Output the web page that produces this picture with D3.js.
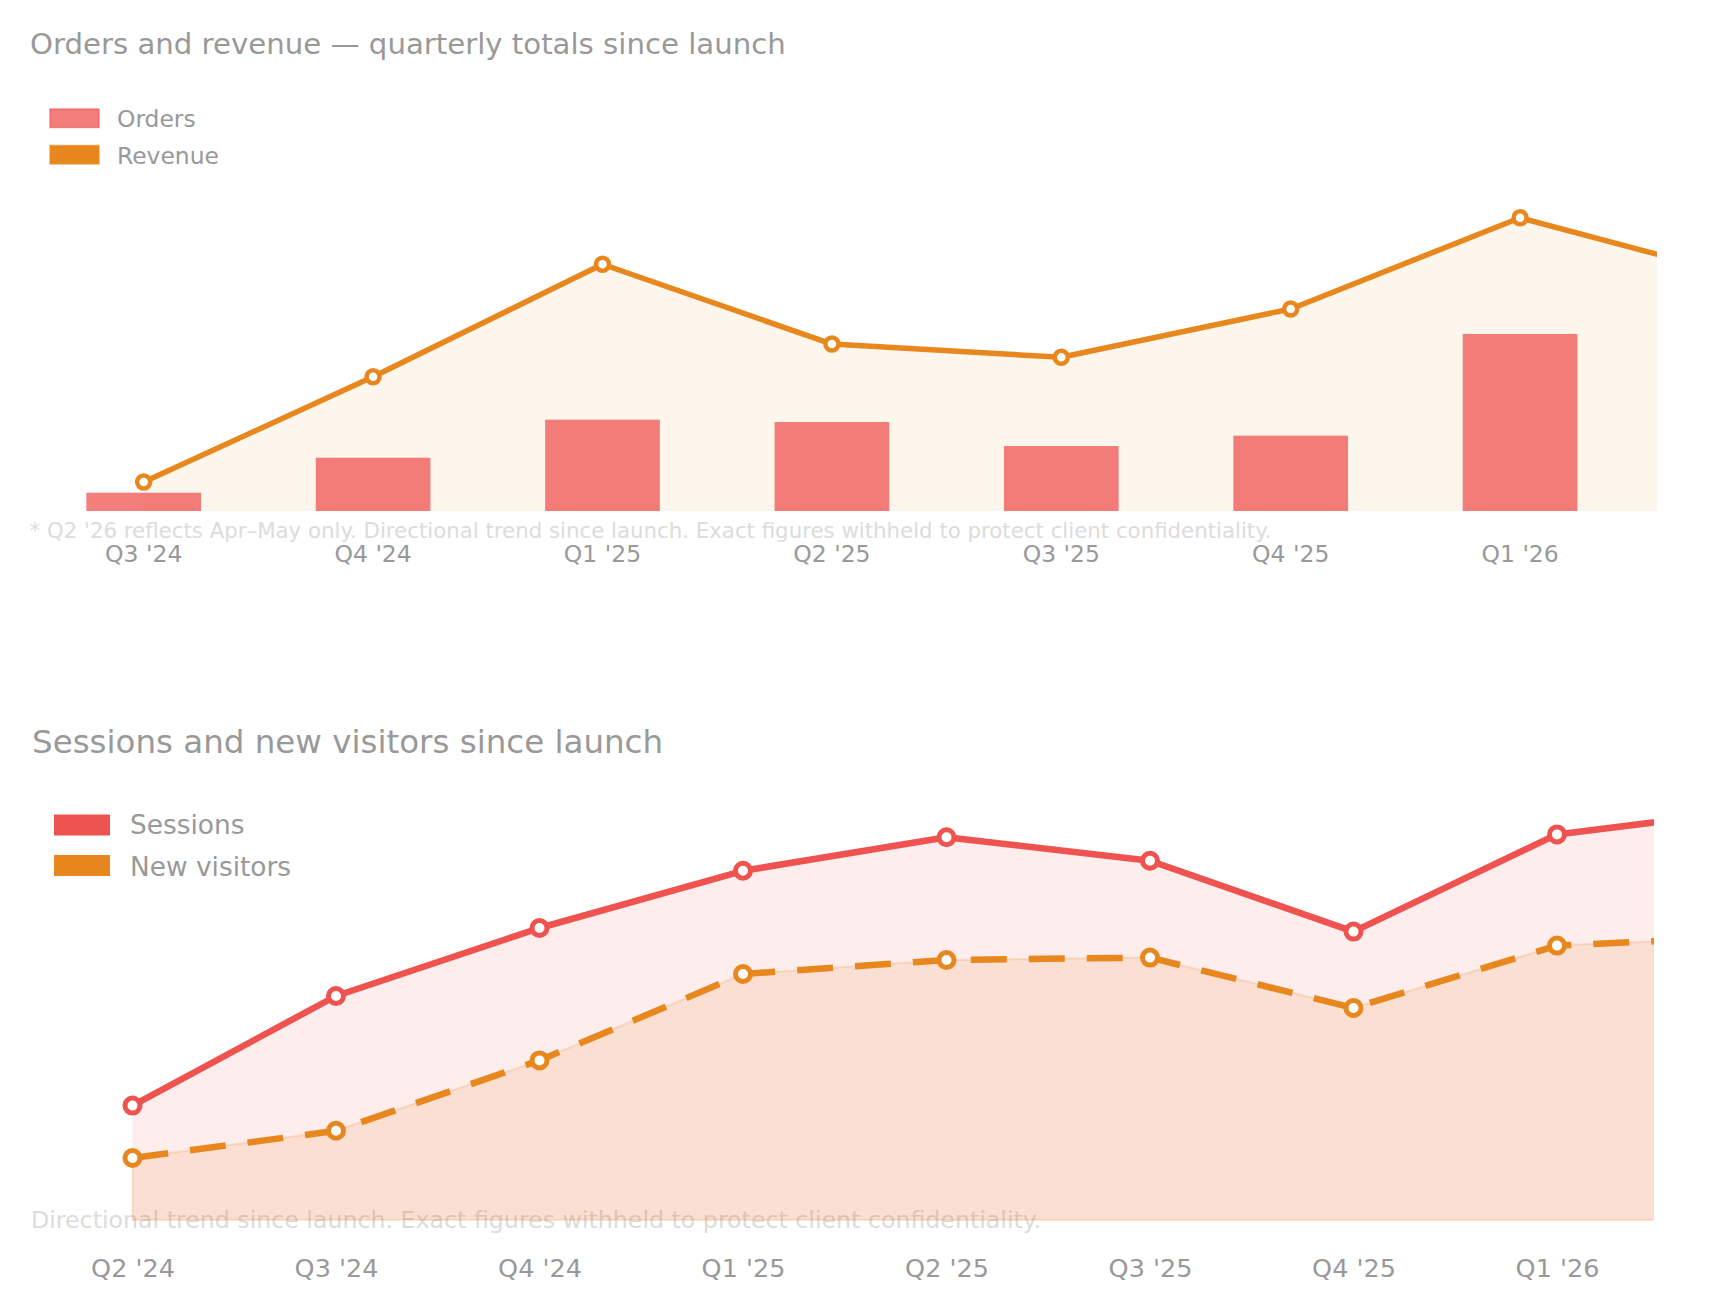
<!DOCTYPE html>
<html>
<head>
<meta charset="utf-8">
<script src="https://cdn.jsdelivr.net/npm/d3@7"></script>
<style>
  body { margin: 0; background: #fff; }
</style>
</head>
<body>
<script>
var W = 1718;
var H = 1314;

// Orders / revenue per quarter (indexed, figures withheld)
var orderQuarters = ["Q3 '24", "Q4 '24", "Q1 '25", "Q2 '25", "Q3 '25", "Q4 '25", "Q1 '26", "Q2 '26"];
var ordersValues = [12.2, 35.5, 60.9, 59.3, 43.3, 50.2, 118, 84];
var revenueValues = [19.3, 89.5, 164.5, 111.3, 102.5, 134.7, 195.5, 154.7];

// Sessions / new visitors per quarter
var trafficQuarters = ["Q2 '24", "Q3 '24", "Q4 '24", "Q1 '25", "Q2 '25", "Q3 '25", "Q4 '25", "Q1 '26", "Q2 '26"];
var sessionsValues = [28.6, 56, 73, 87.3, 95.7, 89.8, 72.1, 96.4, 102.7];
var newVisitorValues = [15.5, 22.3, 39.9, 61.5, 65, 65.6, 53, 68.6, 70.9];

var red = "#ef5350";
var orange = "#e8871e";
var grey = "#999";
var noteGrey = "#dcdcdc";
var font = "'DejaVu Sans', sans-serif";

var clipTopW = 1657;
var clipBottomW = 1654;

var svg = d3.select("body")
  .append("svg")
  .attr("width", W)
  .attr("height", H)
  .style("font-family", font);

var defs = svg.append("defs");
defs.append("clipPath").attr("id", "clipTop")
  .append("rect").attr("x", 0).attr("y", 0).attr("width", clipTopW).attr("height", 640);
defs.append("clipPath").attr("id", "clipBottom")
  .append("rect").attr("x", 0).attr("y", 640).attr("width", clipBottomW).attr("height", 674);

// ---------- Chart 1: orders and revenue ----------
var x1 = d3.scaleBand()
  .domain(orderQuarters)
  .range([29, 29 + 8 * 229.4])
  .paddingInner(0.5)
  .paddingOuter(0.25);

var y1 = d3.scaleLinear()
  .domain([0, 200])
  .range([511, 211]);

function cx1(i) { return x1(orderQuarters[i]) + x1.bandwidth() / 2; }

svg.append("text")
  .attr("x", 30)
  .attr("y", 54)
  .attr("font-size", 29.2)
  .attr("fill", grey)
  .text("Orders and revenue — quarterly totals since launch");

var legend1 = [
  { label: "Orders", fill: red, op: 0.75 },
  { label: "Revenue", fill: orange, op: 1 }
];
legend1.forEach(function(d, i) {
  svg.append("rect")
    .attr("x", 50).attr("y", 109 + i * 36.5)
    .attr("width", 49).attr("height", 18.5)
    .attr("fill", d.fill).attr("fill-opacity", d.op)
    .attr("stroke", d.fill).attr("stroke-opacity", 0.6).attr("stroke-width", 1.5);
  svg.append("text")
    .attr("x", 117).attr("y", 126.5 + i * 37)
    .attr("font-size", 23.4)
    .attr("fill", grey)
    .text(d.label);
});

svg.append("text")
  .attr("x", 29.6)
  .attr("y", 538)
  .attr("font-size", 21.3)
  .attr("fill", noteGrey)
  .text("* Q2 '26 reflects Apr–May only. Directional trend since launch. Exact figures withheld to protect client confidentiality.");

var plot1 = svg.append("g").attr("clip-path", "url(#clipTop)");

plot1.append("path")
  .datum(revenueValues)
  .attr("fill", orange)
  .attr("fill-opacity", 0.08)
  .attr("d", d3.area()
    .x(function(d, i) { return cx1(i); })
    .y0(y1(0))
    .y1(function(d) { return y1(d); }));

plot1.selectAll("rect.bar")
  .data(ordersValues)
  .enter()
  .append("rect")
  .attr("class", "bar")
  .attr("x", function(d, i) { return x1(orderQuarters[i]); })
  .attr("y", function(d) { return y1(d); })
  .attr("width", x1.bandwidth())
  .attr("height", function(d) { return y1(0) - y1(d); })
  .attr("fill", red)
  .attr("fill-opacity", 0.75);

plot1.append("path")
  .datum(revenueValues)
  .attr("fill", "none")
  .attr("stroke", orange)
  .attr("stroke-width", 5.5)
  .attr("stroke-linejoin", "round")
  .attr("d", d3.line()
    .x(function(d, i) { return cx1(i); })
    .y(function(d) { return y1(d); }));

plot1.selectAll("circle.rev")
  .data(revenueValues)
  .enter()
  .append("circle")
  .attr("class", "rev")
  .attr("cx", function(d, i) { return cx1(i); })
  .attr("cy", function(d) { return y1(d); })
  .attr("r", 6.5)
  .attr("fill", "#fff")
  .attr("stroke", orange)
  .attr("stroke-width", 4.5);

// only label the quarters that fall inside the visible plot
var xAxis1 = plot1.append("g")
  .attr("transform", "translate(0," + y1(0) + ")")
  .call(d3.axisBottom(x1)
    .tickValues(orderQuarters.filter(function(q) { return x1(q) + x1.bandwidth() / 2 < clipTopW; }))
    .tickSize(0)
    .tickPadding(34));
xAxis1.select(".domain").remove();
xAxis1.selectAll("text")
  .attr("font-size", 23.5)
  .attr("font-family", font)
  .attr("fill", grey);

// ---------- Chart 2: sessions and new visitors ----------
var x2 = d3.scalePoint()
  .domain(trafficQuarters)
  .range([132.5, 132.5 + 8 * 203.5]);

var y2 = d3.scaleLinear()
  .domain([0, 100])
  .range([1220, 820]);

svg.append("text")
  .attr("x", 32)
  .attr("y", 753)
  .attr("font-size", 32.5)
  .attr("fill", grey)
  .text("Sessions and new visitors since launch");

var legend2 = [
  { label: "Sessions", fill: red },
  { label: "New visitors", fill: orange }
];
legend2.forEach(function(d, i) {
  svg.append("rect")
    .attr("x", 54).attr("y", 814.5 + i * 40.5)
    .attr("width", 56).attr("height", 21)
    .attr("fill", d.fill);
  svg.append("text")
    .attr("x", 130).attr("y", 834 + i * 41.5)
    .attr("font-size", 26.4)
    .attr("fill", grey)
    .text(d.label);
});

svg.append("text")
  .attr("x", 31)
  .attr("y", 1228)
  .attr("font-size", 23.7)
  .attr("fill", noteGrey)
  .text("Directional trend since launch. Exact figures withheld to protect client confidentiality.");

var plot2 = svg.append("g").attr("clip-path", "url(#clipBottom)");

function px2(d, i) { return x2(trafficQuarters[i]); }

plot2.append("path")
  .datum(sessionsValues)
  .attr("fill", red)
  .attr("fill-opacity", 0.1)
  .attr("d", d3.area().x(px2).y0(y2(0)).y1(function(d) { return y2(d); }));

plot2.append("path")
  .datum(newVisitorValues)
  .attr("fill", orange)
  .attr("fill-opacity", 0.13)
  .attr("stroke", orange)
  .attr("stroke-opacity", 0.18)
  .attr("stroke-width", 2)
  .attr("d", d3.area().x(px2).y0(y2(0)).y1(function(d) { return y2(d); }));

plot2.append("path")
  .datum(sessionsValues)
  .attr("fill", "none")
  .attr("stroke", red)
  .attr("stroke-width", 6.5)
  .attr("stroke-linejoin", "round")
  .attr("d", d3.line().x(px2).y(function(d) { return y2(d); }));

plot2.append("path")
  .datum(newVisitorValues)
  .attr("fill", "none")
  .attr("stroke", orange)
  .attr("stroke-width", 6.5)
  .attr("stroke-dasharray", "36 22")
  .attr("d", d3.line().x(px2).y(function(d) { return y2(d); }));

[[sessionsValues, red], [newVisitorValues, orange]].forEach(function(s) {
  plot2.append("g").selectAll("circle")
    .data(s[0])
    .enter()
    .append("circle")
    .attr("cx", px2)
    .attr("cy", function(d) { return y2(d); })
    .attr("r", 7.5)
    .attr("fill", "#fff")
    .attr("stroke", s[1])
    .attr("stroke-width", 5);
});

var xAxis2 = plot2.append("g")
  .attr("transform", "translate(0," + y2(0) + ")")
  .call(d3.axisBottom(x2)
    .tickValues(trafficQuarters.filter(function(q) { return x2(q) < clipBottomW; }))
    .tickSize(0)
    .tickPadding(39));
xAxis2.select(".domain").remove();
xAxis2.selectAll("text")
  .attr("font-size", 25.5)
  .attr("font-family", font)
  .attr("fill", grey);
</script>
</body>
</html>
